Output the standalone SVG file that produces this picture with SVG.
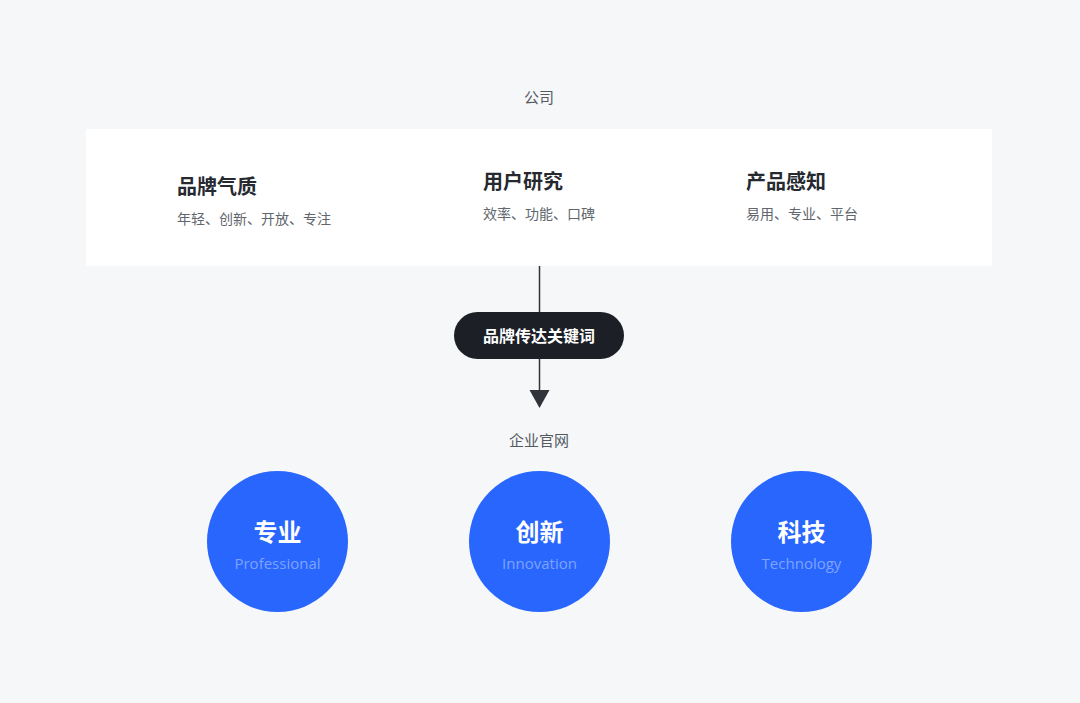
<svg xmlns="http://www.w3.org/2000/svg" width="1080" height="703" viewBox="0 0 1080 703">
<defs>
<style>
.t{font-family:"Noto Sans CJK SC","Noto Sans",sans-serif}
.lab{font-size:15px;fill:#555a61;text-anchor:middle}
.h{font-size:20px;font-weight:bold;fill:#262a30}
.s{font-size:14px;fill:#61666d}
.ct{font-size:24px;font-weight:bold;fill:#ffffff;text-anchor:middle}
.ce{font-family:"Open Sans","Noto Sans",sans-serif;font-size:15px;fill:#7ea3ff;text-anchor:middle}
.circ{fill:#2966fe}
</style>
<marker id="arr" markerWidth="20" markerHeight="18" refX="10" refY="18" orient="auto-start-reverse" markerUnits="userSpaceOnUse" viewBox="0 0 20 18">
<path d="M0,0 L20,0 L10,18 Z" fill="#30333a"/>
</marker>
</defs>
<rect x="0" y="0" width="1080" height="703" fill="#f6f7f9"/>
<g id="company">
<text class="t lab" x="539" y="103">公司</text>
<rect x="86" y="129" width="906" height="137" fill="#ffffff"/>
<g id="brand-quality">
<text class="t h" x="177" y="194">品牌气质</text>
<text class="t s" x="177" y="224">年轻、创新、开放、专注</text>
</g>
<g id="user-research">
<text class="t h" x="483" y="189">用户研究</text>
<text class="t s" x="483" y="219">效率、功能、口碑</text>
</g>
<g id="product-perception">
<text class="t h" x="746" y="189">产品感知</text>
<text class="t s" x="746" y="219">易用、专业、平台</text>
</g>
</g>
<g id="connectors">
<path d="M539.5,266 L539.5,390" stroke="#30333a" stroke-width="1.5" fill="none"/>
<path d="M529.5,390 L549.5,390 L539.5,408 Z" fill="#30333a"/>
</g>
<g id="keyword">
<rect x="454" y="312" width="170" height="47" rx="23.5" fill="#1c1f26"/>
<text class="t" x="539" y="341.5" font-size="16" font-weight="bold" fill="#ffffff" text-anchor="middle">品牌传达关键词</text>
</g>
<g id="website">
<text class="t lab" x="539" y="446">企业官网</text>
</g>
<g id="professional">
<circle class="circ" cx="277.5" cy="541.5" r="70.5"/>
<text class="t ct" x="277.5" y="541">专业</text>
<text class="ce" x="277.5" y="569">Professional</text>
</g>
<g id="innovation">
<circle class="circ" cx="539.5" cy="541.5" r="70.5"/>
<text class="t ct" x="539.5" y="541">创新</text>
<text class="ce" x="539.5" y="569">Innovation</text>
</g>
<g id="technology">
<circle class="circ" cx="801.5" cy="541.5" r="70.5"/>
<text class="t ct" x="801.5" y="541">科技</text>
<text class="ce" x="801.5" y="569">Technology</text>
</g>
</svg>
